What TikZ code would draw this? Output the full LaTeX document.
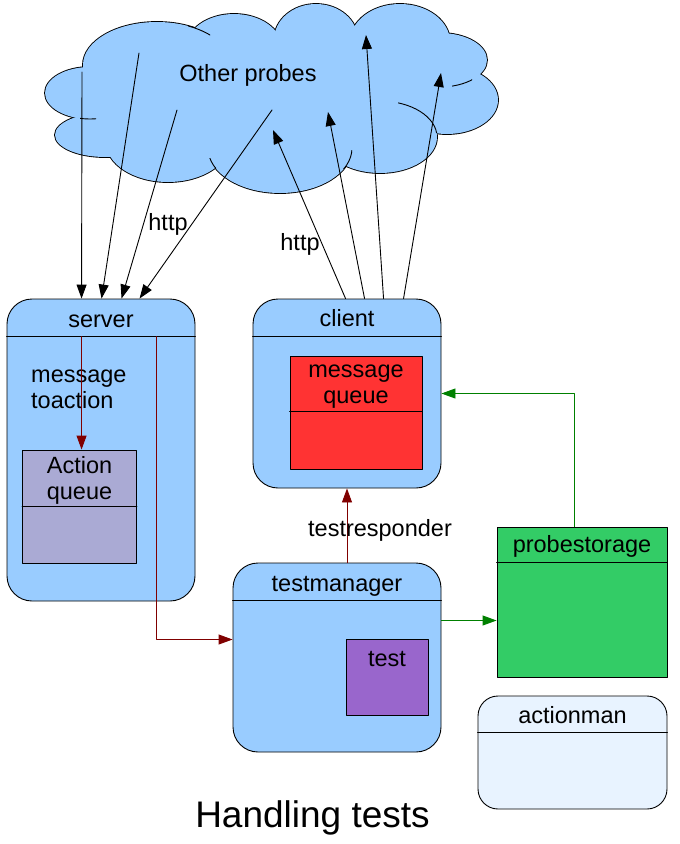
\documentclass[tikz,border=0pt]{standalone}
\usepackage{fontspec}
\setmainfont{Liberation Sans}
\usepackage{tikz}
\usetikzlibrary{arrows.meta}

\definecolor{skyblue}{HTML}{99CCFF}
\definecolor{lavender}{HTML}{AAAAD4}
\definecolor{queuered}{HTML}{FF3333}
\definecolor{testpurple}{HTML}{9966CC}
\definecolor{storegreen}{HTML}{33CC66}
\definecolor{palebox}{HTML}{E8F3FF}
\definecolor{darkred}{HTML}{800000}
\definecolor{darkgreen}{HTML}{008000}

\tikzset{
  umlbox/.style={draw=black, line width=0.9pt, fill=skyblue, rounded corners=25pt, inner sep=0pt},
  plainbox/.style={draw=black, line width=0.9pt, inner sep=0pt},
  lbl/.style={font=\fontsize{23.5}{26}\selectfont, inner sep=0pt, anchor=base},
  httparrow/.style={->, line width=0.9pt},
  redarrow/.style={->, draw=darkred, line width=0.9pt},
  greenarrow/.style={->, draw=darkgreen, line width=0.9pt},
}

\begin{document}
\begin{tikzpicture}[line cap=round,line join=round,>={Triangle[length=14pt,width=10pt]},x=1pt,y=-1pt]
\useasboundingbox (0,0) rectangle (680,844);

% cloud
\foreach \cx/\cy/\rx/\ry in {157/65/74/43, 234/48/48/34, 316/40/42/36, 400/42/50/38, 440/60/47/27,
    447/100/51/34, 380/137/57/36, 280/148/72/45, 168/142/62/40, 105/135/50/22, 90/93/45/26}
  \filldraw[fill=skyblue, draw=black, line width=1.8pt] (\cx,\cy) ellipse [x radius=\rx, y radius=\ry];
\foreach \cx/\cy/\rx/\ry in {157/65/74/43, 234/48/48/34, 316/40/42/36, 400/42/50/38, 440/60/47/27,
    447/100/51/34, 380/137/57/36, 280/148/72/45, 168/142/62/40, 105/135/50/22, 90/93/45/26, 270/95/170/60}
  \fill[skyblue] (\cx,\cy) ellipse [x radius=\rx, y radius=\ry];
\begin{scope}
\clip (188,18) rectangle (210,40);
\draw[line width=0.9pt] (157,65) ellipse [x radius=74, y radius=43];
\end{scope}
\begin{scope}
\clip (452,70) rectangle (472,90);
\draw[line width=0.9pt] (440,60) ellipse [x radius=47, y radius=27];
\end{scope}
\begin{scope}
\clip (398,98) rectangle (440,132);
\draw[line width=0.9pt] (380,137) ellipse [x radius=57, y radius=36];
\end{scope}
\begin{scope}
\clip (340,150) rectangle (352,168);
\draw[line width=0.9pt] (280,148) ellipse [x radius=72, y radius=45];
\end{scope}
\begin{scope}
\clip (206,158) rectangle (216,172);
\draw[line width=0.9pt] (280,148) ellipse [x radius=72, y radius=45];
\end{scope}
\begin{scope}
\clip (80,112) rectangle (96,122);
\draw[line width=0.9pt] (90,93) ellipse [x radius=45, y radius=26];
\end{scope}
\node[lbl] (others) at (248,81) {Other probes};

% boxes
\node[umlbox, minimum width=188pt, minimum height=302pt] (server) at (101,450) {};
\draw[line width=0.9pt] ([yshift=-38pt]server.north west) -- ([yshift=-38pt]server.north east);
\node[lbl] (serverlbl) at (101,327) {server};
\node[lbl, anchor=base west, align=left] (msgtoaction) at (31,408) {message\\toaction};
\node[plainbox, fill=lavender, minimum width=114pt, minimum height=113pt] (aqueue) at (79.5,506.5) {};
\draw[line width=0.9pt] ([yshift=-57pt]aqueue.north west) -- ([yshift=-57pt]aqueue.north east);
\node[lbl, align=center] (aqueuelbl) at (79.5,499) {Action\\queue};

\node[umlbox, minimum width=188pt, minimum height=189pt] (client) at (347,393.5) {};
\draw[line width=0.9pt] ([yshift=-38pt]client.north west) -- ([yshift=-38pt]client.north east);
\node[lbl] (clientlbl) at (347,326) {client};
\node[plainbox, fill=queuered, minimum width=132pt, minimum height=113pt] (mqueue) at (356,412.5) {};
\draw[line width=0.9pt] ([yshift=-56pt]mqueue.north west) -- ([yshift=-56pt]mqueue.north east);
\node[lbl, align=center] (mqueuelbl) at (356,403) {message\\queue};

\node[umlbox, minimum width=208pt, minimum height=189pt] (tmanager) at (337,657.5) {};
\draw[line width=0.9pt] ([yshift=-38pt]tmanager.north west) -- ([yshift=-38pt]tmanager.north east);
\node[lbl] (tmanagerlbl) at (337,591) {testmanager};
\node[plainbox, fill=testpurple, minimum width=82pt, minimum height=76pt] (test) at (387,677) {};
\node[lbl] (testlbl) at (387,666) {test};

\node[plainbox, fill=storegreen, minimum width=170pt, minimum height=150pt] (pstorage) at (582,602) {};
\draw[line width=0.9pt] ([yshift=-36pt]pstorage.north west) -- ([yshift=-36pt]pstorage.north east);
\node[lbl] (pstoragelbl) at (582,552) {probestorage};

\node[umlbox, fill=palebox, rounded corners=20pt, minimum width=189pt, minimum height=113pt] (actionman) at (572.5,752.5) {};
\draw[line width=0.9pt] ([yshift=-37pt]actionman.north west) -- ([yshift=-37pt]actionman.north east);
\node[lbl] (actionmanlbl) at (572.5,723) {actionman};

% http connections
\coordinate (in1) at (82,72);
\coordinate (in2) at (139,53);
\coordinate (in3) at (177,110);
\coordinate (in4) at (272,110);
\coordinate (out1) at (273,130);
\coordinate (out2) at (328,112);
\coordinate (out3) at (366,35);
\coordinate (out4) at (441,73);
\draw[httparrow] (in1) -- ([xshift=75pt]server.north west);
\draw[httparrow] (in2) -- ([xshift=95pt]server.north west);
\draw[httparrow] (in3) -- ([xshift=115pt]server.north west);
\draw[httparrow] (in4) -- ([xshift=133pt]server.north west);
\draw[httparrow] ([xshift=93pt]client.north west) -- (out1);
\draw[httparrow] ([xshift=112pt]client.north west) -- (out2);
\draw[httparrow] ([xshift=131pt]client.north west) -- (out3);
\draw[httparrow] ([xshift=151pt]client.north west) -- (out4);
\node[lbl] (httpin) at (168,230) {http};
\node[lbl] (httpout) at (300,250) {http};

% internal connections
\draw[redarrow] ([xshift=75pt,yshift=-38pt]server.north west) -- ([xshift=75pt]server.north west |- aqueue.north);
\draw[redarrow] ([xshift=150pt,yshift=-38pt]server.north west) |- ([yshift=18pt]tmanager.west);
\draw[redarrow] (tmanager.north -| client.south) -- (client.south);
\node[lbl] (responderlbl) at (380,536) {testresponder};
\draw[greenarrow] ([yshift=37pt]tmanager.east) -- ([yshift=37pt]tmanager.east -| pstorage.west);
\draw[greenarrow] ([xshift=-8pt]pstorage.north) |- (client.east);

\node[font=\fontsize{37}{40}\selectfont, inner sep=0pt, anchor=base] (title) at (312.5,827) {Handling tests};
\end{tikzpicture}
\end{document}
